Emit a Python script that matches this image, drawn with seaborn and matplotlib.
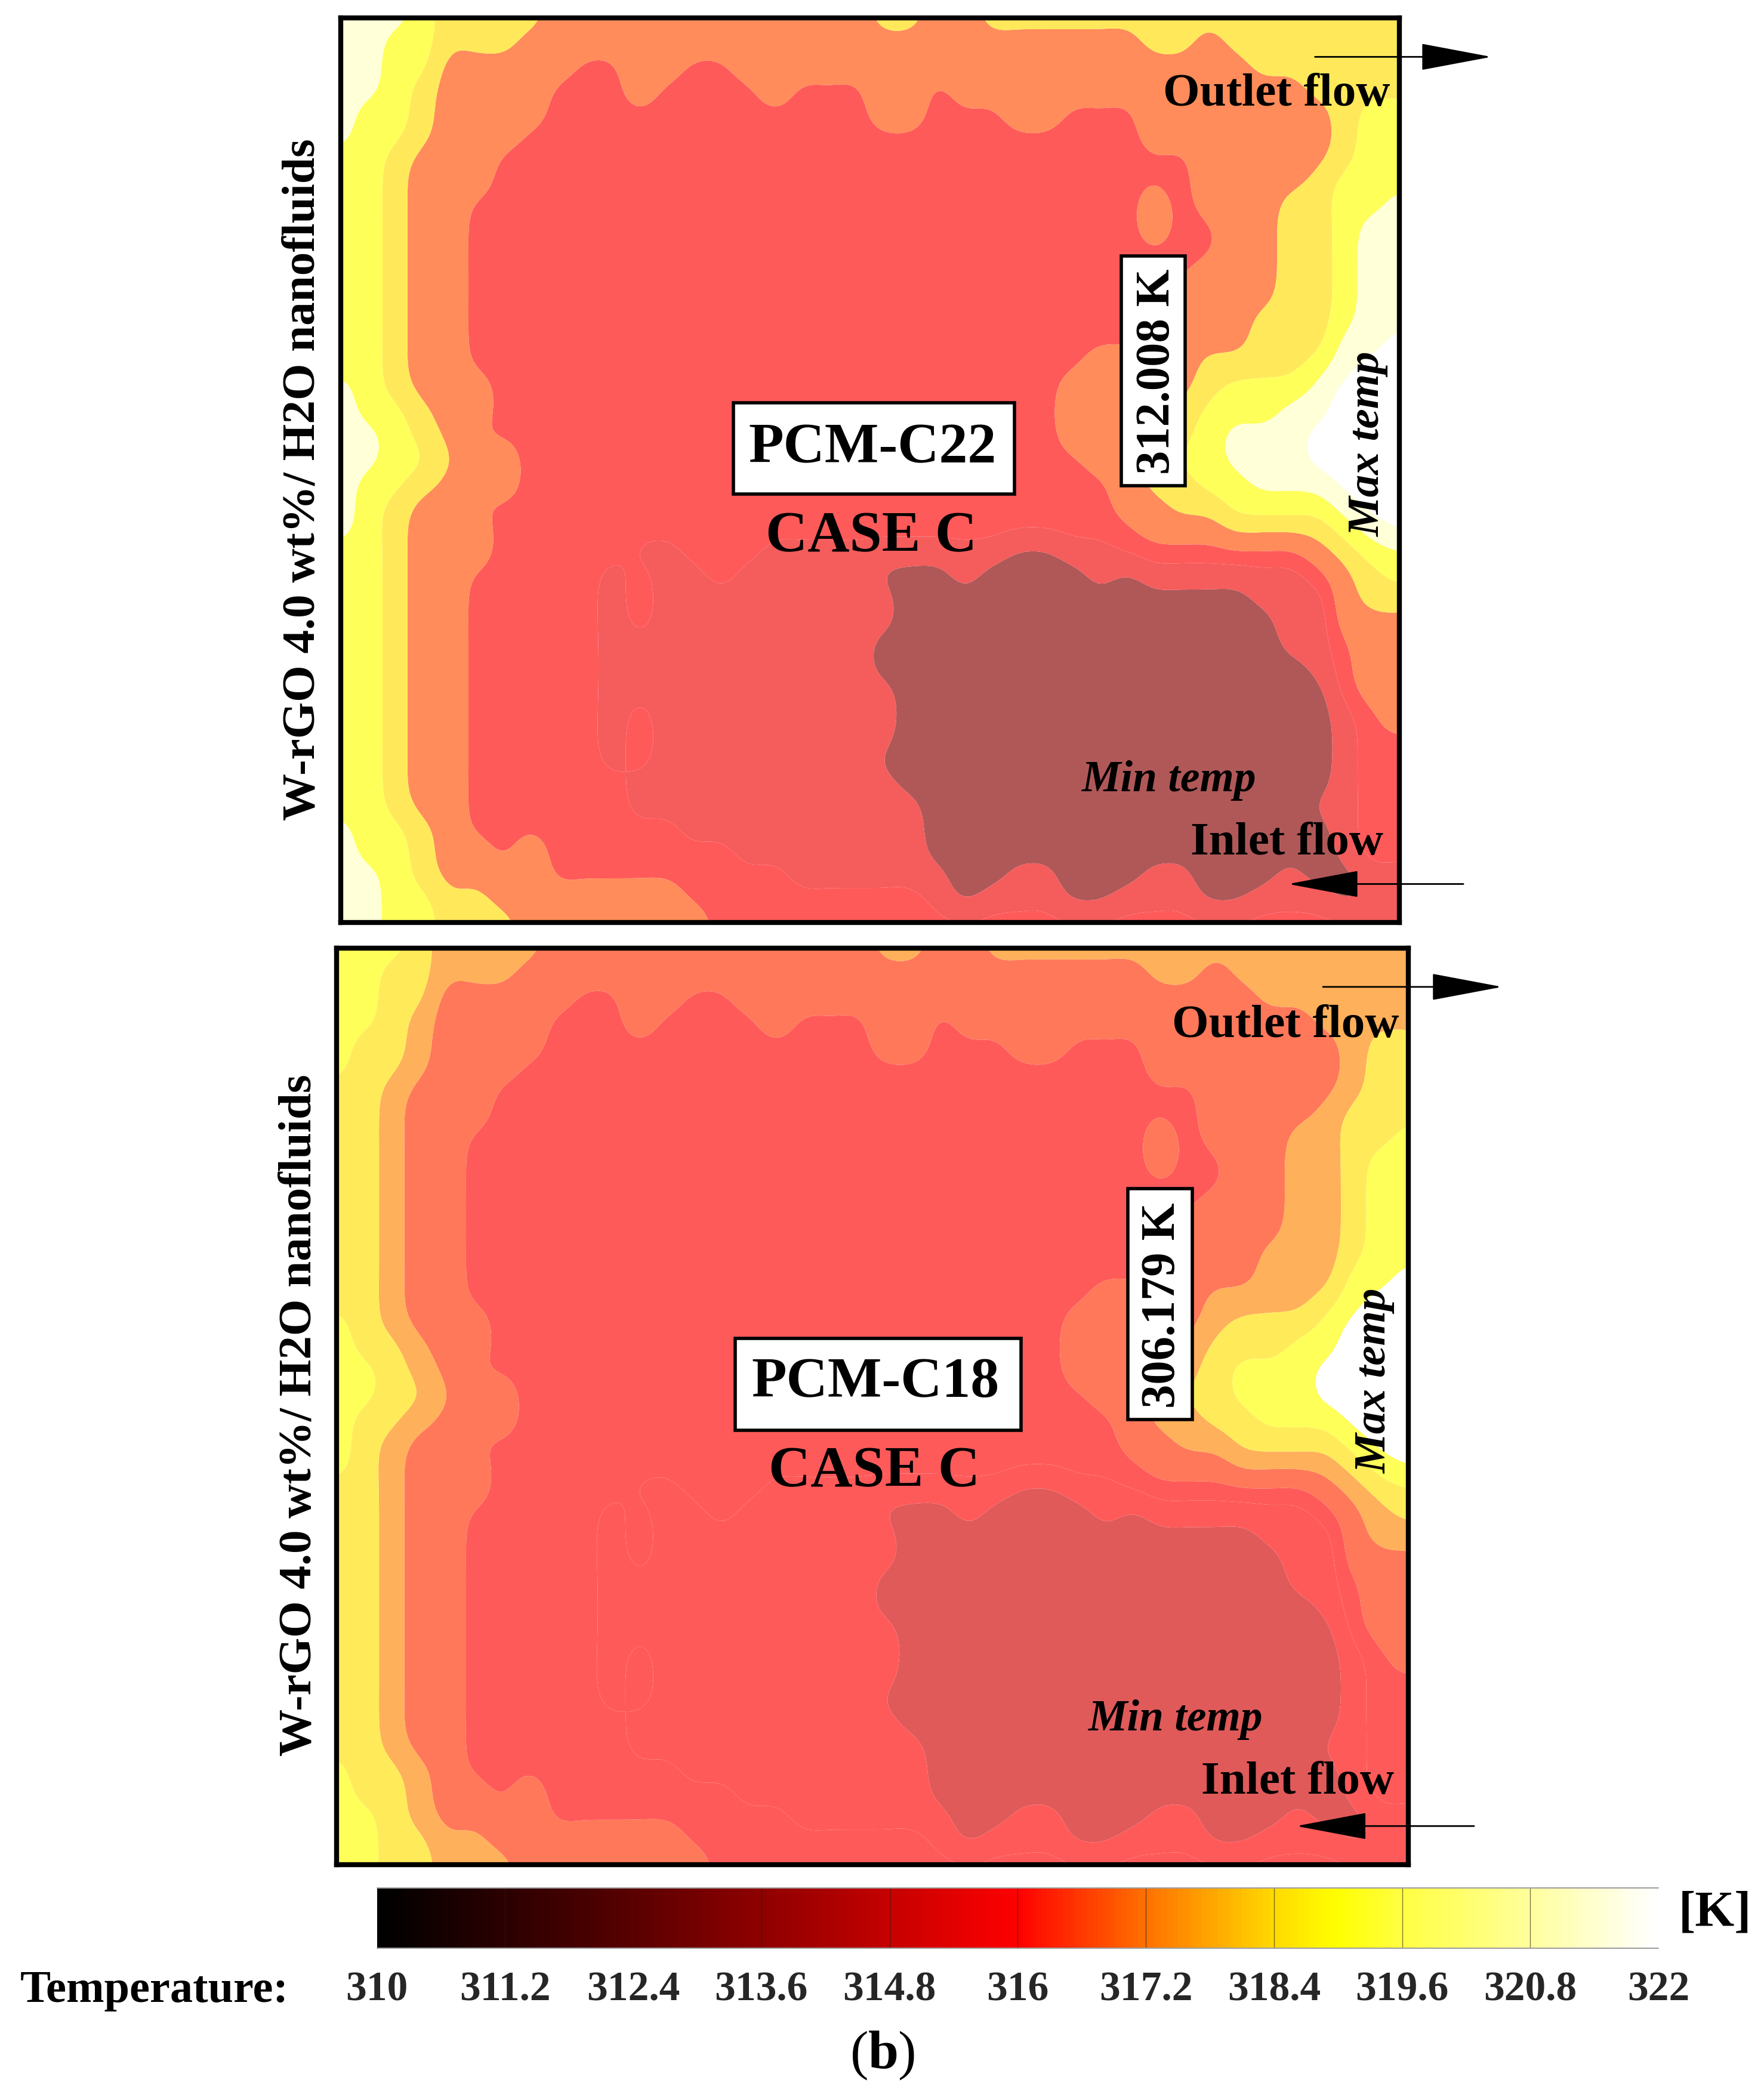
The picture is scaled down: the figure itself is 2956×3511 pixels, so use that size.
import numpy as np
import matplotlib
matplotlib.use("Agg")
import matplotlib.pyplot as plt
from matplotlib.colors import LinearSegmentedColormap, ListedColormap, BoundaryNorm
from matplotlib.patches import Rectangle, FancyArrowPatch
import seaborn as sns

# Temperature bands, row by row (top to bottom) on a 40x40 grid.
# Each token is <band><run length>.
band_rows = """
63 51 44 312 42 32 416
62 52 43 323 42 31 47
62 52 35 22 32 22 319 46
62 51 41 34 23 31 24 31 23 32 21 313 44
61 52 41 34 212 32 23 32 23 37 41 52
61 52 41 33 223 37 41 52
52 41 33 226 35 41 52
52 41 33 226 34 41 53
52 41 32 225 31 21 33 42 52 61
52 41 32 225 31 22 32 42 51 62
52 41 32 228 32 42 51 62
52 41 32 227 33 42 51 62
52 41 32 226 34 42 51 62
52 41 32 226 33 43 51 62
52 41 32 226 33 43 62 71
52 41 32 223 34 44 51 61 72
61 51 41 33 221 35 41 53 61 73
61 52 41 32 221 34 41 53 62 73
62 51 41 31 222 34 41 51 63 74
62 52 41 32 221 32 41 52 63 74
61 52 41 33 222 31 42 52 63 73
61 51 41 32 224 32 42 54 61 72
61 51 41 33 224 33 44 51 61 71
52 41 33 25 12 23 19 02 12 27 31 41 52
52 41 32 25 11 21 12 21 15 03 11 04 11 01 16 21 31 41 51
52 41 32 25 11 21 19 013 13 31 42
52 41 32 25 11 21 19 014 12 33
52 41 32 25 110 015 12 21 32
52 41 32 25 110 016 11 21 32
52 41 32 25 111 016 21 32
52 41 32 25 11 21 19 016 11 21 31
52 41 32 25 11 21 19 016 11 22
52 41 32 25 11 21 18 017 11 22
52 41 32 26 110 016 11 22
52 41 32 26 111 014 12 22
61 52 41 31 28 19 015 11 22
61 52 41 32 21 31 27 17 015 11 22
62 51 41 34 29 16 02 12 03 12 03 11 02 12
62 52 42 37 29 11 01 13 02 13 02 13 03
62 52 43 37 226
""".strip().splitlines()

colors_c22 = ["#B05858", "#F55C5C", "#FF5A5A", "#FF8C5A", "#FFE95A", "#FFFF5A", "#FFFFD8", "#FFFFFF"]
colors_c18 = ["#E05A5A", "#FF5A5A", "#FF5A5A", "#FF785A", "#FFB05A", "#FFEB5A", "#FFFF5A", "#FFFFFF"]
tick_values = [310, 311.2, 312.4, 313.6, 314.8, 316, 317.2, 318.4, 319.6, 320.8, 322]
tick_labels = ["310", "311.2", "312.4", "313.6", "314.8", "316", "317.2", "318.4", "319.6", "320.8", "322"]
scale_stops = [(310, "#000000"), (312, "#4A0000"), (314, "#A00000"), (316, "#FF0000"), (317.2, "#FF7000"),
               (318.4, "#FFD800"), (319, "#FFFF00"), (319.6, "#FFFF40"), (320.8, "#FFFF9A"), (322, "#FFFFFF")]
panel_names = ["PCM-C22", "PCM-C18"]
peak_labels = ["312.008 K", "306.179 K"]
side_label = "W-rGO 4.0 wt%/ H2O nanofluids"

sns.set_theme(style="white")
plt.rcParams["font.family"] = ["Liberation Serif", "DejaVu Serif"]

W, H = 2956, 3512
K = 2.2394
fig = plt.figure(figsize=(W / 100, H / 100), dpi=100, facecolor="white")


def fx(x): return x * K / W
def fy(y): return 1 - y * K / H


def axes_box(x0, y0, x1, y1):
    return fig.add_axes([fx(x0), fy(y1), fx(x1) - fx(x0), fy(y0) - fy(y1)])


def put(x, y, s, size, ha="center", va="center", rot=0, style="normal", weight="bold"):
    fig.text(fx(x), fy(y), s, fontsize=size, ha=ha, va=va, rotation=rot, style=style,
             weight=weight, color="black", zorder=8)


def box(x0, y0, x1, y1):
    fig.add_artist(Rectangle((fx(x0), fy(y1)), fx(x1) - fx(x0), fy(y0) - fy(y1), transform=fig.transFigure,
                             fc="white", ec="black", lw=4.0, zorder=6))


def arrow(x0, x1, y):
    x1 = x1 + 3 * np.sign(x1 - x0)
    fig.add_artist(FancyArrowPatch((fx(x0), fy(y)), (fx(x1), fy(y)), transform=fig.transFigure,
                                   arrowstyle="-|>,head_length=77,head_width=14.5", mutation_scale=1,
                                   shrinkA=0, shrinkB=0, lw=2.0, color="black", zorder=7))


def parse_rows(rows):
    out = []
    for row in rows:
        vals = []
        for tok in row.split():
            vals += [int(tok[0])] * int(tok[1:])
        assert len(vals) == 40, row
        out.append(vals)
    return np.array(out, dtype=float)


def resample_matrix(n, f):
    # Catmull-Rom weights from n grid nodes to a finer set of sample positions
    t = np.linspace(0, n - 1, (n - 1) * f + 1)
    M = np.zeros((t.size, n))
    for k, p in enumerate(t):
        i = min(int(p), n - 2)
        u = p - i
        w = [(-u**3 + 2*u**2 - u) / 2, (3*u**3 - 5*u**2 + 2) / 2,
             (-3*u**3 + 4*u**2 + u) / 2, (u**3 - u**2) / 2]
        for d, wt in zip((-1, 0, 1, 2), w):
            M[k, int(np.clip(i + d, 0, n - 1))] += wt
    return t, M


def soften(a, sigma, axis):
    # Gaussian softening of the interpolated field, to take out the grid's stair-steps
    r = int(3 * sigma)
    kern = np.exp(-0.5 * (np.arange(-r, r + 1) / sigma) ** 2)
    kern /= kern.sum()
    pad = [(0, 0), (0, 0)]
    pad[axis] = (r, r)
    b = np.pad(a, pad, mode="edge")
    return np.apply_along_axis(lambda v: np.convolve(v, kern, mode="valid"), axis, b)


def draw_panel(rect, colors):
    ax = axes_box(*rect)
    grid = parse_rows(band_rows)
    ys, My = resample_matrix(grid.shape[0], 10)
    xs, Mx = resample_matrix(grid.shape[1], 10)
    fine = My @ grid @ Mx.T
    fine = soften(soften(fine, 8, 0), 3, 1)
    levels = [-2, .5, 1.5, 2.3, 3.5, 4.5, 5.5, 6.5, 9]
    ax.contourf(xs, ys, fine, levels=levels, cmap=ListedColormap(colors),
                norm=BoundaryNorm(levels, 8), antialiased=True)
    ax.set_xlim(0, 39)
    ax.set_ylim(39, 0)
    ax.set_xticks([])
    ax.set_yticks([])
    for s in ax.spines.values():
        s.set_visible(True)
        s.set_color("black")
        s.set_linewidth(6)
    return ax


draw_panel((255, 14, 1047, 691), colors_c22)
draw_panel((252, 710, 1054, 1396), colors_c18)

# Colour scale
cb = axes_box(282, 1413, 1241, 1459)
N = 480
cmap = LinearSegmentedColormap.from_list(
    "scale", [((t - 310) / 12, c) for t, c in scale_stops])
strip = np.linspace(310, 322, N).reshape(1, -1)
sns.heatmap(strip, ax=cb, cmap=cmap, vmin=310, vmax=322, cbar=False, xticklabels=False, yticklabels=False)
pos = [(t - 310) / 12 * N for t in tick_values]
cb.vlines(pos[1:-1], 0, 1, color="#202020", lw=1.0, alpha=.6)
cb.set_xticks(pos)
cb.set_xticklabels(tick_labels, fontsize=50, weight="bold", rotation=0)
cb.tick_params(axis="x", length=0, pad=26)
cb.set_yticks([])
for s in cb.spines.values():
    s.set_visible(False)
cb.plot([0, N], [0.01, 0.01], color="#A0A0A0", lw=1.5, clip_on=False)
cb.plot([0, N], [0.99, 0.99], color="#A0A0A0", lw=1.5, clip_on=False)

put(15, 1490, "Temperature:", 55, ha="left")
put(1256, 1432, "[K]", 61, ha="left")
put(643, 1538, "(", 66, weight="normal")
put(661, 1538, "b", 66)
put(679, 1538, ")", 66, weight="normal")

# Panel annotations
box(549, 302, 759, 370)
put(653, 336, panel_names[0], 69)
put(652, 402, "CASE C", 70)
box(839, 192, 887, 364)
put(866, 278, peak_labels[0], 58, rot=90)
put(1024, 332, "Max temp", 54, rot=90, style="italic")
put(875, 584, "Min temp", 53, style="italic")
put(1040, 71, "Outlet flow", 57, ha="right")
put(1035, 631, "Inlet flow", 57, ha="right")
put(227, 359, side_label, 57, rot=90)
arrow(984, 1113, 43)
arrow(1095, 967, 662)

box(550, 1002, 764, 1071)
put(655, 1035, panel_names[1], 69)
put(654, 1102, "CASE C", 70)
box(844, 890, 892, 1063)
put(870, 977, peak_labels[1], 58, rot=90)
put(1029, 1033, "Max temp", 54, rot=90, style="italic")
put(880, 1287, "Min temp", 53, style="italic")
put(1047, 768, "Outlet flow", 57, ha="right")
put(1043, 1334, "Inlet flow", 57, ha="right")
put(224, 1059, side_label, 57, rot=90)
arrow(990, 1121, 739)
arrow(1103, 973, 1367)

fig.savefig("out.png", dpi=100, facecolor="white")
